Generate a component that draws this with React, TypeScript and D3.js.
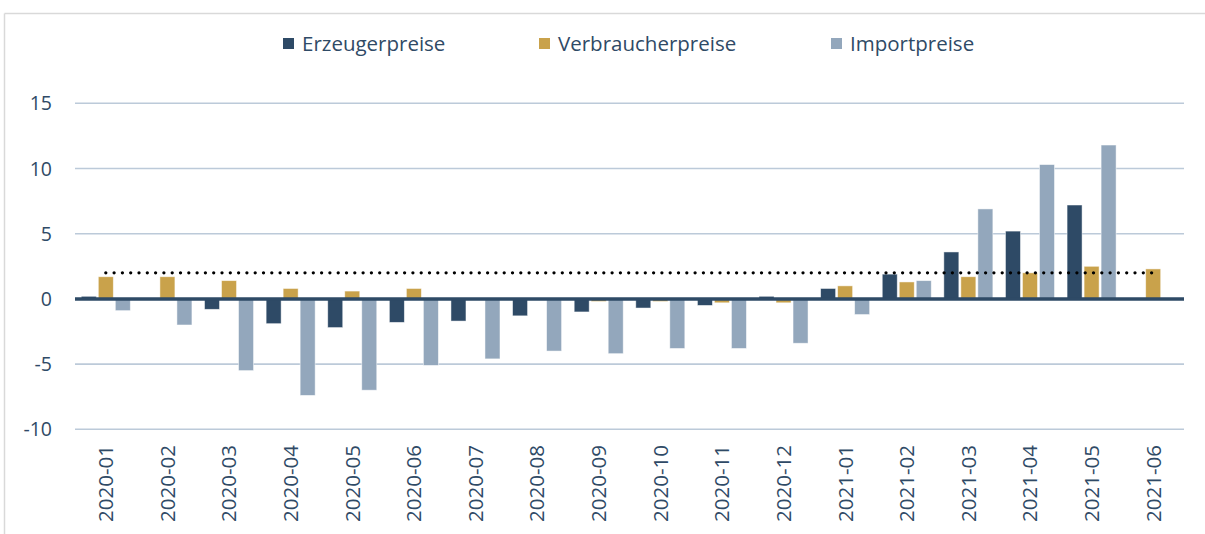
import React from "react";
import * as d3 from "d3";

const categories = ["2020-01","2020-02","2020-03","2020-04","2020-05","2020-06","2020-07","2020-08","2020-09","2020-10","2020-11","2020-12","2021-01","2021-02","2021-03","2021-04","2021-05","2021-06"];
const erzeugerpreise = [0.2, 0, -0.8, -1.9, -2.2, -1.8, -1.7, -1.3, -1.0, -0.7, -0.5, 0.2, 0.8, 1.9, 3.6, 5.2, 7.2, 0];
const verbraucherpreise = [1.7, 1.7, 1.4, 0.8, 0.6, 0.8, 0, 0, -0.2, -0.2, -0.3, -0.3, 1.0, 1.3, 1.7, 2.0, 2.5, 2.3];
const importpreise = [-0.9, -2.0, -5.5, -7.4, -7.0, -5.1, -4.6, -4.0, -4.2, -3.8, -3.8, -3.4, -1.2, 1.4, 6.9, 10.3, 11.8, 0];
const seriesNames = ["Erzeugerpreise", "Verbraucherpreise", "Importpreise"];
const seriesColors = ["#2E4A66", "#C9A24B", "#93A7BC"];
const yTicks = [-10, -5, 0, 5, 10, 15];
const targetValue = 2;

const W = 1205, H = 534;
const FONT = "'Open Sans', 'Liberation Sans', sans-serif";
const TEXT = "#2F4A66";

export default function App() {
  const x = d3.scaleBand<string>().domain(categories).range([75, 1184]).padding(0);
  const inner = d3.scaleBand<string>().domain(seriesNames).range([0, x.step()]).paddingInner(0.118).paddingOuter(0.37);
  const y = d3.scaleLinear().domain([-10, 15]).range([429.3, 103.3]);
  const series = [erzeugerpreise, verbraucherpreise, importpreise];
  const legendX = [283, 539, 831];

  return (
    <svg width={W} height={H} style={{ position: "absolute", left: 0, top: 0, background: "#fff" }} fontFamily={FONT}>
      <rect x={0} y={0} width={W} height={H} fill="#fff" />
      <line x1={4.5} x2={W} y1={13.5} y2={13.5} stroke="#D9D9D9" strokeWidth={1.5} />
      <line x1={4.5} x2={4.5} y1={13.5} y2={H} stroke="#D9D9D9" strokeWidth={1.5} />

      {seriesNames.map((s, i) => (
        <g key={s}>
          <rect x={legendX[i]} y={38} width={11} height={11} fill={seriesColors[i]} />
          <text x={legendX[i] + 19} y={50.5} fontSize={20.5} fill={TEXT}>{s}</text>
        </g>
      ))}

      {yTicks.filter(t => t !== 0).map(t => (
        <line key={t} x1={75} x2={1184} y1={y(t)} y2={y(t)} stroke="#BCCAD9" strokeWidth={1.6} />
      ))}
      {yTicks.map(t => (
        <text key={t} x={52} y={y(t)} dy="0.36em" textAnchor="end" fontSize={19.5} fill={TEXT}>{t}</text>
      ))}

      {categories.map((c, ci) => (
        <g key={c}>
          {series.map((vals, si) => {
            const v = vals[ci];
            if (!v) return null;
            const y0 = y(0), y1 = y(v);
            return (
              <rect key={si}
                x={(x(c) as number) + (inner(seriesNames[si]) as number)}
                width={inner.bandwidth()}
                y={Math.min(y0, y1)}
                height={Math.abs(y1 - y0)}
                fill={seriesColors[si]}
                stroke="#ffffff" strokeOpacity={0.6} strokeWidth={0.8}
              />
            );
          })}
        </g>
      ))}

      <line x1={75} x2={1184} y1={y(0)} y2={y(0)} stroke="#2E4A66" strokeWidth={3.5} />

      <line
        x1={(x(categories[0]) as number) + x.bandwidth() / 2}
        x2={(x(categories[categories.length - 1]) as number) + x.bandwidth() / 2}
        y1={y(targetValue)} y2={y(targetValue)}
        stroke="#000" strokeWidth={3.3} strokeLinecap="round" strokeDasharray="0 8.3" />

      {categories.map(c => {
        const cx = (x(c) as number) + x.bandwidth() / 2;
        return (
          <text key={c} transform={`translate(${cx},445) rotate(-90)`} dy="0.36em" textAnchor="end" fontSize={20.5} fill={TEXT}>{c}</text>
        );
      })}
    </svg>
  );
}
